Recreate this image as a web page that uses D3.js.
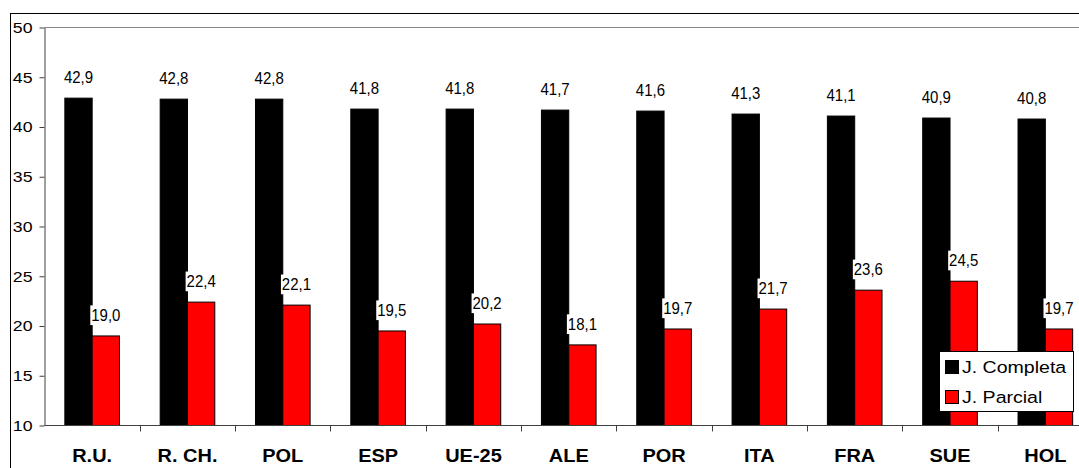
<!DOCTYPE html>
<html>
<head>
<meta charset="utf-8">
<script src="https://d3js.org/d3.v7.min.js"></script>
<style>
body { margin: 0; background: #fff; }
svg { display: block; }
</style>
</head>
<body>
<svg id="chart"></svg>
<script>
var categories = ['R.U.', 'R. CH.', 'POL', 'ESP', 'UE-25', 'ALE', 'POR', 'ITA', 'FRA', 'SUE', 'HOL'];
var completa = [42.9, 42.8, 42.8, 41.8, 41.8, 41.7, 41.6, 41.3, 41.1, 40.9, 40.8];
var parcial = [19.0, 22.4, 22.1, 19.5, 20.2, 18.1, 19.7, 21.7, 23.6, 24.5, 19.7];
var seriesNames = ['J. Completa', 'J. Parcial'];
var seriesColors = ['#000000', '#ff0000'];
var yTicks = [10, 15, 20, 25, 30, 35, 40, 45, 50];

var width = 1079;
var height = 468;
// plot area (the right edge runs past the picture, as in the original)
var plot = { left: 44.5, right: 1093, top: 27.5, bottom: 425.5 };

var sansFont = '"Liberation Sans", Arial, sans-serif';

var fmt = d3.formatLocale({ decimal: ',', thousands: '.', grouping: [3], currency: ['', ''] }).format('.1f');

var data = categories.map(function(c, i) {
    return { cat: c, values: [completa[i], parcial[i]] };
});

var svg = d3.select('#chart')
    .attr('width', width)
    .attr('height', height);

var x0 = d3.scaleBand()
    .domain(categories)
    .range([plot.left, plot.right])
    .padding(0);

var x1 = d3.scaleBand()
    .domain([0, 1])
    .range([0, x0.bandwidth()])
    .paddingInner(0)
    .paddingOuter(0.745);

var y = d3.scaleLinear()
    .domain([10, 50])
    .range([plot.bottom, plot.top]);

// outer chart border
svg.append('rect')
    .attr('x', 10.5)
    .attr('y', 13.5)
    .attr('width', 1200)
    .attr('height', 1000)
    .attr('fill', 'none')
    .attr('stroke', '#000');

// top edge of plot area at 50
svg.append('line')
    .attr('x1', plot.left)
    .attr('x2', plot.right)
    .attr('y1', y(50))
    .attr('y2', y(50))
    .attr('stroke', '#888');

// bars
var groups = svg.append('g').selectAll('g')
    .data(data)
    .enter()
    .append('g')
    .attr('transform', function(d) { return 'translate(' + x0(d.cat) + ',0)'; });

groups.selectAll('rect')
    .data(function(d) { return d.values.map(function(v, j) { return { j: j, v: v }; }); })
    .enter()
    .append('rect')
    .attr('x', function(d) { return x1(d.j); })
    .attr('y', function(d) { return y(d.v); })
    .attr('width', x1.bandwidth())
    .attr('height', function(d) { return plot.bottom - y(d.v); })
    .attr('fill', function(d) { return seriesColors[d.j]; })
    .attr('stroke', '#000')
    .attr('stroke-width', 1);

// y axis
var yAxis = svg.append('g')
    .attr('transform', 'translate(' + plot.left + ',0)')
    .call(d3.axisLeft(y).tickValues(yTicks).tickSize(5).tickSizeOuter(0).tickFormat(d3.format('d')));

yAxis.select('.domain').attr('stroke', '#404040');
yAxis.selectAll('.tick line').attr('stroke', '#404040');
yAxis.selectAll('.tick text')
    .attr('x', -12 / 1.18)
    .attr('transform', 'scale(1.18,1)')
    .attr('fill', '#000')
    .style('font-family', sansFont)
    .style('font-size', '15px');

// x axis line and ticks between categories
svg.append('line')
    .attr('x1', plot.left)
    .attr('x2', plot.right)
    .attr('y1', plot.bottom)
    .attr('y2', plot.bottom)
    .attr('stroke', '#404040');

svg.append('g').selectAll('line')
    .data(categories.slice(1))
    .enter()
    .append('line')
    .attr('x1', function(d) { return Math.round(x0(d)) + 0.5; })
    .attr('x2', function(d) { return Math.round(x0(d)) + 0.5; })
    .attr('y1', plot.bottom)
    .attr('y2', plot.bottom + 6)
    .attr('stroke', '#404040');

svg.append('g').selectAll('text')
    .data(categories)
    .enter()
    .append('text')
    .attr('transform', function(d) { return 'translate(' + (x0(d) + x0.bandwidth() / 2) + ',462) scale(1.11,1)'; })
    .attr('text-anchor', 'middle')
    .style('font-family', sansFont)
    .style('font-size', '18px')
    .style('font-weight', 'bold')
    .text(function(d) { return d; });

// value labels with white background
var labels = groups.selectAll('g.label')
    .data(function(d) { return d.values.map(function(v, j) { return { j: j, v: v }; }); })
    .enter()
    .append('g')
    .attr('class', 'label')
    .attr('transform', function(d) {
        return 'translate(' + (x1(d.j) + x1.bandwidth() / 2) + ',' + (y(d.v) - 15) + ') scale(0.92,1)';
    });

labels.append('text')
    .attr('text-anchor', 'middle')
    .style('font-family', sansFont)
    .style('font-size', '16.3px')
    .attr('fill', '#000')
    .text(function(d) { return fmt(d.v); });

labels.insert('rect', 'text')
    .each(function() {
        var b = this.parentNode.querySelector('text').getBBox();
        d3.select(this)
            .attr('x', b.x - 1)
            .attr('y', b.y - 1)
            .attr('width', b.width + 2)
            .attr('height', b.height + 2);
    })
    .attr('fill', '#fff');

// legend
var legend = svg.append('g');

legend.append('rect')
    .attr('x', 939.5)
    .attr('y', 351.5)
    .attr('width', 134)
    .attr('height', 60)
    .attr('fill', '#fff')
    .attr('stroke', '#000');

var items = legend.selectAll('g')
    .data(seriesNames)
    .enter()
    .append('g')
    .attr('transform', function(d, i) { return 'translate(0,' + (i * 30) + ')'; });

items.append('rect')
    .attr('x', 945.5)
    .attr('y', 360.5)
    .attr('width', 13)
    .attr('height', 13)
    .attr('fill', function(d, i) { return seriesColors[i]; })
    .attr('stroke', '#000');

items.append('text')
    .attr('transform', 'translate(962,372.5) scale(1.15,1)')
    .style('font-family', sansFont)
    .style('font-size', '17px')
    .text(function(d) { return d; });
</script>
</body>
</html>
